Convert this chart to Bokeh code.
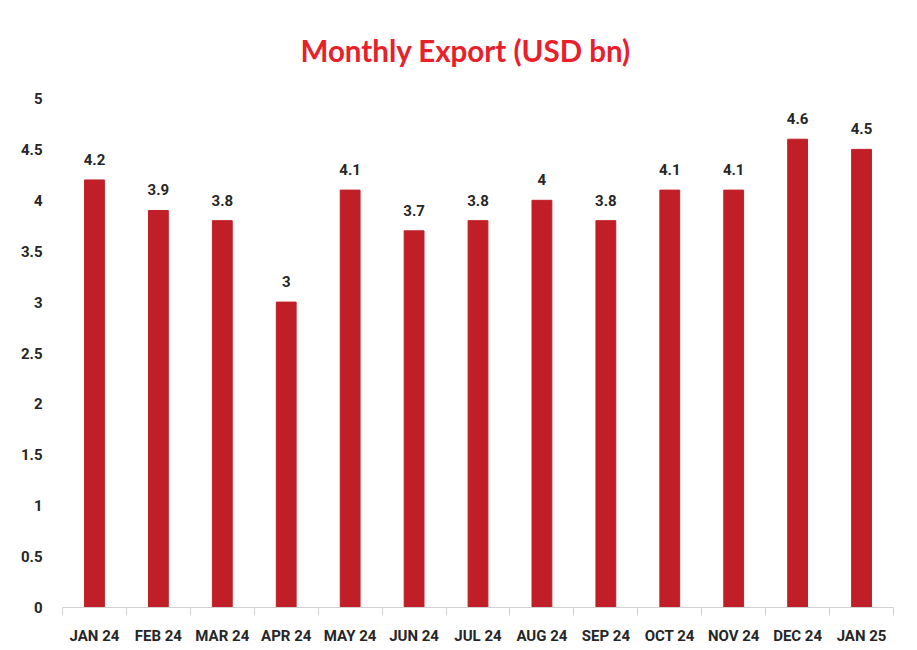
from bokeh.plotting import figure
from bokeh.models import ColumnDataSource, FixedTicker, Range1d, Title
from bokeh.embed import file_html
from bokeh.resources import INLINE

months = ["JAN 24", "FEB 24", "MAR 24", "APR 24", "MAY 24", "JUN 24", "JUL 24",
          "AUG 24", "SEP 24", "OCT 24", "NOV 24", "DEC 24", "JAN 25"]
exports = [4.2, 3.9, 3.8, 3.0, 4.1, 3.7, 3.8, 4.0, 3.8, 4.1, 4.1, 4.6, 4.5]
y_ticks = [0, 0.5, 1, 1.5, 2, 2.5, 3, 3.5, 4, 4.5, 5]

FONT = "Roboto"

idx = list(range(len(months)))
src = ColumnDataSource(dict(x=idx, v=exports, lab=[f"{v:g}" for v in exports]))

p = figure(frame_width=831, frame_height=509, output_backend="svg", toolbar_location=None,
           x_range=Range1d(-0.5, len(months) - 0.5), y_range=Range1d(0, 5),
           min_border_left=62, min_border_right=10, min_border_top=96, min_border_bottom=30)
p.outline_line_color = None
p.xgrid.grid_line_color = None
p.ygrid.grid_line_color = None

t = Title(text="Monthly Export (USD bn)", align="left", text_color="#E8202A",
          text_font="Lato", text_font_size="29.5px", text_font_style="bold",
          offset=238, standoff=61)
p.add_layout(t, "above")

p.vbar(x="x", top="v", width=0.31, bottom=0, source=src, color="#C01F27")
p.text(x="x", y="v", text="lab", source=src, text_align="center", text_baseline="bottom",
       y_offset=-15, text_font_size="15px", text_font_style="bold", text_color="#262626",
       text_font={"value": FONT})

xa = p.xaxis[0]
xa.ticker = FixedTicker(ticks=idx, minor_ticks=[i - 0.5 for i in range(len(months) + 1)])
xa.major_label_overrides = {i: m for i, m in enumerate(months)}
xa.major_tick_line_color = None
xa.minor_tick_line_color = "#D0D0D0"
xa.minor_tick_out = 8
xa.minor_tick_in = 0
xa.axis_line_color = "#D0D0D0"
xa.axis_line_width = 1
xa.major_label_standoff = 11
xa.major_label_text_font = FONT
xa.major_label_text_font_size = "15px"
xa.major_label_text_font_style = "bold"
xa.major_label_text_color = "#262626"

ya = p.yaxis[0]
ya.ticker = FixedTicker(ticks=y_ticks)
ya.major_label_overrides = {v: f"{v:g}" for v in y_ticks}
ya.axis_line_color = None
ya.major_tick_line_color = None
ya.minor_tick_line_color = None
ya.major_label_standoff = 14
ya.major_label_text_font = FONT
ya.major_label_text_font_size = "15px"
ya.major_label_text_font_style = "bold"
ya.major_label_text_color = "#262626"

open("out.html", "w").write(file_html(p, INLINE))
